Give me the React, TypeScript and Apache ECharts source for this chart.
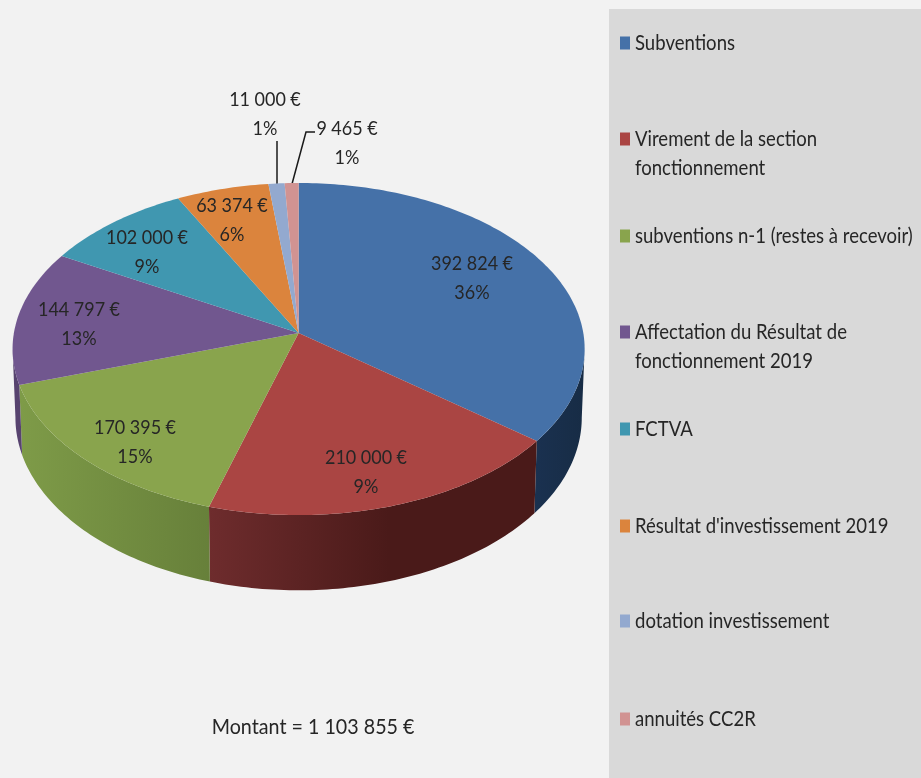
import React, { useEffect, useRef } from "react";
import * as echarts from "echarts";

const categories = [
  "Subventions",
  "Virement de la section\nfonctionnement",
  "subventions n-1 (restes à recevoir)",
  "Affectation du Résultat de\nfonctionnement 2019",
  "FCTVA",
  "Résultat d'investissement 2019",
  "dotation investissement",
  "annuités CC2R",
];
const amounts = [392824, 210000, 170395, 144797, 102000, 63374, 11000, 9465];
const percentLabels = ["36%", "9%", "15%", "13%", "9%", "6%", "1%", "1%"];

const colors = ["#4571A8", "#AA4543", "#89A44D", "#71578F", "#4097B0", "#DB843D", "#93A9CF", "#D19392"];
const sideStops: string[][] = [
  ["#1A3150", "#172C45"],
  ["#6E2C2D", "#4A1A19"],
  ["#7E9B48", "#67803A"],
  ["#57436F", "#57436F"],
  ["#2F7186", "#2F7186"],
  ["#A6622B", "#A6622B"],
  ["#6F80A0", "#6F80A0"],
  ["#9E6E6D", "#9E6E6D"],
];
const sideStopEnds = [1, 0.55, 1, 1, 1, 1, 1, 1];
const labelCenters = [
  [472, 262],
  [366, 456],
  [135, 426],
  [79, 308],
  [147, 236],
  [232, 204],
  [265, 98],
  [347, 127],
];
const legendRowTops = [43, 139, 236, 332, 429, 526, 621, 719];

const FONT = "Lato, 'Noto Sans', sans-serif";
const STRETCH = 1.12;
const total = amounts.reduce((a, b) => a + b, 0);
const money = (n: number) => String(n).replace(/\B(?=(\d{3})+$)/g, "\u202F") + "\u202F€";

// Perspective projection of the flat disc onto the picture.
const APEX_X = 298.6;
const APEX_Y = 333;
const RX = 284.7;
const RY = 164.5;
const K = 0.0964;
const DEPTH = 68;
const project = (deg: number, lower = false): number[] => {
  const t = (deg * Math.PI) / 180;
  const u = Math.sin(t);
  const v = -Math.cos(t);
  const w = 1 / (1 - K * v);
  if (!lower) return [APEX_X + RX * u * w, APEX_Y + RY * v * w];
  return [APEX_X + RX * 0.99 * u * w, APEX_Y + RY * v * w + DEPTH * w];
};
const SIDE_FROM = 95.5;
const SIDE_TO = 264.5;

const arcPoints = (a0: number, a1: number, lower = false) => {
  const n = Math.max(2, Math.ceil(Math.abs(a1 - a0)));
  const out: number[][] = [];
  for (let i = 0; i <= n; i++) out.push(project(a0 + ((a1 - a0) * i) / n, lower));
  return out;
};

const renderSlice = (params: any, api: any) => {
  const i = params.dataIndex;
  const before = amounts.slice(0, i).reduce((a, b) => a + b, 0);
  const a0 = (before / total) * 360;
  const a1 = ((before + api.value(0)) / total) * 360;
  const children: any[] = [];
  const s0 = Math.max(a0, SIDE_FROM);
  const s1 = Math.min(a1, SIDE_TO);
  if (s1 > s0) {
    const top = arcPoints(s0, s1);
    const bottom = arcPoints(s1, s0, true);
    const xs = top.concat(bottom).map((p) => p[0]);
    const x0 = Math.min(...xs);
    const x1 = Math.max(...xs);
    children.push({
      type: "polygon",
      shape: { points: top.concat(bottom) },
      style: {
        fill: new echarts.graphic.LinearGradient(x0, 0, x1, 0, [
          { offset: 0, color: sideStops[i][0] },
          { offset: sideStopEnds[i], color: sideStops[i][1] },
          { offset: 1, color: sideStops[i][1] },
        ], true),
      },
      z2: 1,
    });
  }
  children.push({
    type: "polygon",
    shape: { points: [[APEX_X, APEX_Y], ...arcPoints(a0, a1)] },
    style: { fill: colors[i] },
    z2: 2,
  });
  children.push({
    type: "text",
    x: labelCenters[i][0],
    y: labelCenters[i][1] + 14.5,
    scaleY: STRETCH,
    style: {
      text: `${money(api.value(0))}\n${percentLabels[i]}`,
      font: `18px ${FONT}`,
      fill: "#262626",
      align: "center",
      verticalAlign: "middle",
      lineHeight: 29 / STRETCH,
    },
    z2: 5,
  });
  return { type: "group", children };
};

export default function App() {
  const ref = useRef<HTMLDivElement>(null);
  useEffect(() => {
    document.body.style.margin = "0";
    const chart = echarts.init(ref.current!, undefined, { renderer: "svg" });
    const legend: any[] = [];
    categories.forEach((name, i) => {
      legend.push({
        type: "rect",
        shape: { x: 620, y: legendRowTops[i] - 6.5, width: 10, height: 13 },
        style: { fill: colors[i] },
      });
      legend.push({
        type: "text",
        x: 635,
        y: legendRowTops[i] - 15.5,
        scaleY: STRETCH,
        style: {
          text: name,
          font: `18.55px ${FONT}`,
          fill: "#262626",
          lineHeight: 29 / STRETCH,
          verticalAlign: "top",
        },
      });
    });
    chart.setOption({
      animation: false,
      backgroundColor: "#F2F2F2",
      graphic: [
        { type: "rect", z: 0, shape: { x: 609, y: 9, width: 312, height: 769 }, style: { fill: "#D9D9D9" } },
        ...legend,
        { type: "polyline", shape: { points: [[277, 141], [277, 184]] }, style: { stroke: "#1a1a1a", lineWidth: 1.5, fill: "none" } },
        { type: "polyline", shape: { points: [[315, 132], [306, 132], [292, 184]] }, style: { stroke: "#1a1a1a", lineWidth: 1.5, fill: "none" } },
        {
          type: "text",
          x: 313,
          y: 725,
          scaleY: STRETCH,
          style: { text: `Montant = ${money(total).replace("\u202F", " ").replace("\u202F", " ")}`, font: `19.7px ${FONT}`, fill: "#262626", align: "center", verticalAlign: "middle" },
        },
      ],
      series: [
        {
          type: "custom",
          coordinateSystem: "none",
          renderItem: renderSlice,
          data: amounts.map((v) => [v]),
          silent: true,
          clip: false,
        },
      ],
    });
    return () => chart.dispose();
  }, []);
  return <div ref={ref} style={{ position: "absolute", left: 0, top: 0, width: 921, height: 778, filter: "blur(0.4px)" }} />;
}
